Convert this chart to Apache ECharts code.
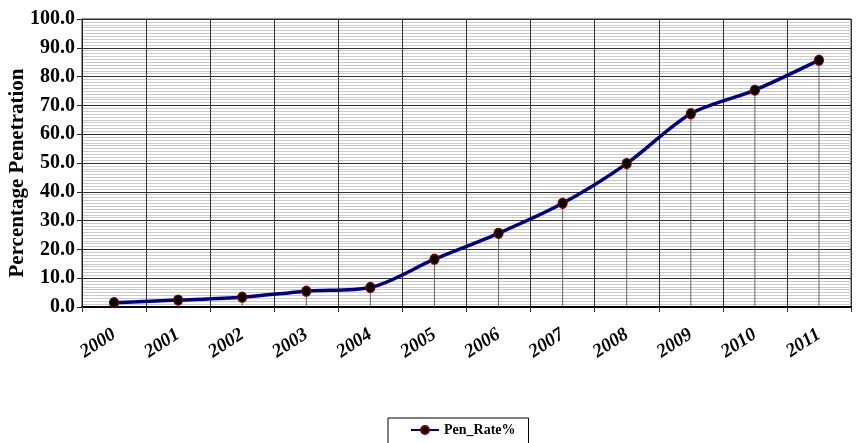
<!DOCTYPE html>
<html>
<head>
<meta charset="utf-8">
<script src="https://cdn.jsdelivr.net/npm/echarts@6/dist/echarts.min.js"></script>
<style>
html,body{margin:0;padding:0;background:#fff;}
#chart{width:857px;height:443px;}
</style>
</head>
<body>
<div id="chart"></div>
<script>
var years = ['2000','2001','2002','2003','2004','2005','2006','2007','2008','2009','2010','2011'];
var penRate = [1.5, 2.4, 3.4, 5.5, 6.8, 16.6, 25.6, 36.0, 49.8, 67.1, 75.3, 85.7];
var seriesName = 'Pen_Rate%';
var yAxisName = 'Percentage Penetration';
var yMin = 0, yMax = 100, yStep = 10;

var serif = '"Liberation Serif", "Times New Roman", serif';
var chart = echarts.init(document.getElementById('chart'));
chart.setOption({
  animation: false,
  backgroundColor: '#ffffff',
  grid: {
    left: 82, right: 6, top: 19, bottom: 136,
    outerBoundsMode: 'none',
    containLabel: false,
    show: true, borderColor: '#222', borderWidth: 1
  },
  legend: {
    data: [seriesName],
    left: 388, top: 418,
    padding: [5, 13, 8, 22],
    itemWidth: 28, itemHeight: 10, itemGap: 5,
    borderColor: '#000', borderWidth: 1,
    textStyle: { fontFamily: serif, fontWeight: 'bold', fontSize: 14, color: '#000' }
  },
  xAxis: {
    type: 'category',
    data: years,
    boundaryGap: true,
    axisLine: { show: true, lineStyle: { color: '#000', width: 2 } },
    axisTick: { show: true, length: 5, lineStyle: { color: '#333' } },
    splitLine: { show: true, lineStyle: { color: '#333', width: 1 } },
    axisLabel: {
      rotate: 33, margin: 26,
      fontFamily: serif, fontWeight: 'bold', fontStyle: 'italic', fontSize: 19, color: '#000'
    }
  },
  yAxis: {
    type: 'value',
    min: yMin, max: yMax, interval: yStep,
    name: yAxisName,
    nameLocation: 'middle',
    nameGap: 54,
    nameMoveOverlap: false,
    nameTextStyle: { fontFamily: serif, fontWeight: 'bold', fontSize: 21, color: '#000', padding: [0, 20, 0, 0] },
    axisLine: { show: true, lineStyle: { color: '#222', width: 1 } },
    axisTick: { show: true, length: 5, lineStyle: { color: '#222' } },
    axisLabel: {
      margin: 7,
      fontFamily: serif, fontWeight: 'bold', fontSize: 20, color: '#000',
      formatter: function (v) { return v.toFixed(1); }
    },
    splitLine: { show: true, lineStyle: { color: '#333', width: 1 } },
    minorTick: { show: false, splitNumber: 10 },
    minorSplitLine: { show: true, lineStyle: { color: '#cacaca', width: 1 } }
  },
  series: [
    {
      name: 'drop',
      type: 'bar',
      data: penRate,
      barWidth: 1,
      itemStyle: { color: '#666' },
      z: 1,
      silent: true
    },
    {
      name: seriesName,
      type: 'line',
      data: penRate,
      smooth: 0.3,
      symbol: 'circle',
      symbolSize: [9, 10],
      lineStyle: { color: '#000080', width: 3.5 },
      itemStyle: { color: '#000', borderColor: '#7a0000', borderWidth: 1.2 },
      z: 3
    }
  ]
});
</script>
</body>
</html>
